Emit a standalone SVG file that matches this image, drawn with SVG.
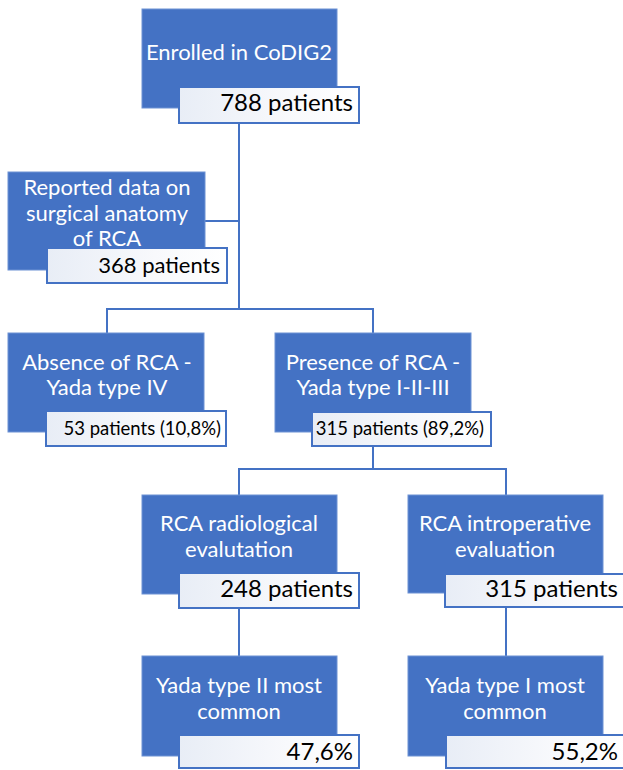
<svg xmlns="http://www.w3.org/2000/svg" width="623" height="770" viewBox="0 0 623 770">
<defs>
<linearGradient id="lbl" x1="0" y1="0" x2="1" y2="0">
<stop offset="0" stop-color="#e8edf6"/>
<stop offset="0.6" stop-color="#f8f9fc"/>
<stop offset="1" stop-color="#ffffff"/>
</linearGradient>
<style>
.blue{fill:#4472C4;stroke:#6d92d4;stroke-width:1}
.lbl{fill:url(#lbl);stroke:#4472C4;stroke-width:2}
.conn{fill:none;stroke:#4472C4;stroke-width:2}
.t{font-family:Lato,"Noto Sans",sans-serif;font-size:22px;fill:#ffffff;text-anchor:middle}
.n{font-family:Lato,"Noto Sans",sans-serif;font-size:24px;fill:#000000;text-anchor:end}
.s{font-size:18.5px}
</style>
</defs>
<rect width="623" height="770" fill="#ffffff"/>
<g id="connectors" class="conn">
<path d="M239 123 V309"/>
<path d="M205 221 H239"/>
<path d="M107 333 V309 H373 V333"/>
<path d="M373 446 V469"/>
<path d="M239 495 V469 H506 V495"/>
<path d="M239 608 V656"/>
<path d="M506 607 V656"/>
</g>
<g id="enrolled">
<rect class="blue" x="142" y="9" width="195" height="99"/>
<text class="t" x="239" y="60">Enrolled in CoDIG2</text>
<rect class="lbl" x="179" y="87" width="180" height="36"/>
<text class="n" x="353" y="111">788 patients</text>
</g>
<g id="reported">
<rect class="blue" x="8" y="172" width="197" height="98"/>
<text class="t" x="107" y="195">Reported data on</text>
<text class="t" x="107" y="220.5">surgical anatomy</text>
<text class="t" x="107" y="246">of RCA</text>
<rect class="lbl" x="47" y="248" width="180" height="35"/>
<text class="n" x="220" y="273" style="font-size:22px">368 patients</text>
</g>
<g id="absence">
<rect class="blue" x="8" y="333" width="196" height="99"/>
<text class="t" x="107" y="370">Absence of RCA -</text>
<text class="t" x="107" y="395">Yada type IV</text>
<rect class="lbl" x="46" y="411" width="180" height="35"/>
<text class="n s" x="221" y="435">53 patients (10,8%)</text>
</g>
<g id="presence">
<rect class="blue" x="275" y="333" width="196" height="99"/>
<text class="t" x="373" y="370">Presence of RCA -</text>
<text class="t" x="373" y="395">Yada type I-II-III</text>
<rect class="lbl" x="312" y="412" width="179" height="34"/>
<text class="n s" x="484" y="435">315 patients (89,2%)</text>
</g>
<g id="radiological">
<rect class="blue" x="142" y="495" width="195" height="99"/>
<text class="t" x="239" y="531">RCA radiological</text>
<text class="t" x="239" y="557">evalutation</text>
<rect class="lbl" x="179" y="573" width="180" height="35"/>
<text class="n" x="353" y="597">248 patients</text>
</g>
<g id="intraoperative">
<rect class="blue" x="408" y="495" width="195" height="98"/>
<text class="t" x="505" y="531">RCA introperative</text>
<text class="t" x="505" y="557">evaluation</text>
<rect class="lbl" x="445" y="574" width="182" height="33"/>
<text class="n" x="618" y="597">315 patients</text>
</g>
<g id="yada2">
<rect class="blue" x="142" y="656" width="195" height="100"/>
<text class="t" x="239" y="693">Yada type II most</text>
<text class="t" x="239" y="719">common</text>
<rect class="lbl" x="179" y="735" width="180" height="33"/>
<text class="n" x="353" y="760">47,6%</text>
</g>
<g id="yada1">
<rect class="blue" x="408" y="656" width="195" height="100"/>
<text class="t" x="505" y="693">Yada type I most</text>
<text class="t" x="505" y="719">common</text>
<rect class="lbl" x="446" y="735" width="181" height="33"/>
<text class="n" x="618" y="760">55,2%</text>
</g>
</svg>
